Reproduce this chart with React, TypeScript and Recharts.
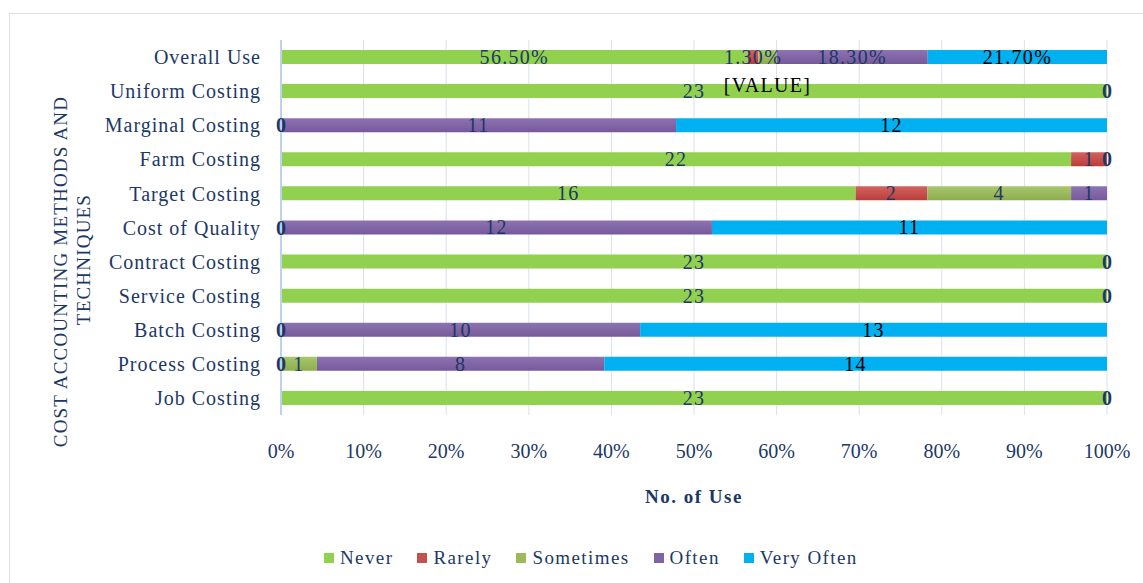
import React from 'react';
import {
  BarChart,
  Bar,
  XAxis,
  YAxis,
  CartesianGrid,
  Legend,
  LabelList,
  ReferenceDot
} from 'recharts';

const categories = [
  'Overall Use',
  'Uniform Costing',
  'Marginal Costing',
  'Farm Costing',
  'Target Costing',
  'Cost of Quality',
  'Contract Costing',
  'Service Costing',
  'Batch Costing',
  'Process Costing',
  'Job Costing'
];

// null = no label in the original, 0 = a "0" label is shown
const never = [56.5, 23, 0, 22, 16, 0, 23, 23, 0, 0, 23];
const rarely = [1.3, null, null, 1, 2, null, null, null, null, null, null];
const sometimes = [2.2, null, null, null, 4, null, null, null, null, 1, null];
const often = [18.3, null, 11, null, 1, 12, null, null, 10, 8, null];
const veryOften = [21.7, 0, 12, 0, null, 11, 0, 0, 13, 14, 0];

const tickPercents = [0, 10, 20, 30, 40, 50, 60, 70, 80, 90, 100];

const series = [
  { key: 'never', name: 'Never', values: never, fill: '#92D050', swatch: '#92D050' },
  { key: 'rarely', name: 'Rarely', values: rarely, fill: 'url(#g-rarely)', swatch: '#C4514E' },
  { key: 'sometimes', name: 'Sometimes', values: sometimes, fill: 'url(#g-sometimes)', swatch: '#9BBB59' },
  { key: 'often', name: 'Often', values: often, fill: 'url(#g-often)', swatch: '#8064A2' },
  { key: 'veryOften', name: 'Very Often', values: veryOften, fill: '#00B0F0', swatch: '#00B0F0' }
];

const data = categories.map((name, i) => {
  const row: any = { name };
  series.forEach((s) => (row[s.key] = s.values[i]));
  return row;
});

// zero-valued segments still carry a "0" label in the original;
// place them at the stack position of that segment
const zeroLabels: { name: string; at: number; key: string }[] = [];
categories.forEach((name, i) => {
  const total = series.reduce((sum, s) => sum + (s.values[i] || 0), 0);
  let run = 0;
  series.forEach((s) => {
    const v = s.values[i];
    if (v === 0) zeroLabels.push({ name, at: run / total, key: s.key });
    run += v || 0;
  });
});

const FONT = '"Liberation Serif", "Times New Roman", serif';
const NAVY = '#1C3866';

const makeLabel = (key: string) => (props: any) => {
  const { x, y, width, height, index, value } = props;
  if (value === null || value === undefined) return null;
  const v = Number(value);
  let text = index === 0 ? `${v.toFixed(2)}%` : String(v);
  let fill = key === 'veryOften' ? '#000000' : NAVY;
  let cy = Number(y) + Number(height) / 2;
  if (index === 0 && key === 'sometimes') {
    // broken label left in the source chart
    text = '[VALUE]';
    fill = '#000000';
    cy += 28;
  }
  return (
    <text
      x={Number(x) + Number(width) / 2}
      y={cy}
      textAnchor="middle"
      dominantBaseline="central"
      fill={fill}
      fontFamily={FONT}
      fontSize={20}
      letterSpacing={1.3}
    >
      {text}
    </text>
  );
};

const ZeroMark = (props: any) => (
  <text
    x={props.cx}
    y={props.cy}
    textAnchor="middle"
    dominantBaseline="central"
    fill={NAVY}
    fontFamily={FONT}
    fontSize={20}
    fontWeight="bold"
  >
    0
  </text>
);

const renderYTitle = (props: any) => {
  const vb = props.viewBox || { x: 0, y: 40, width: 281, height: 375 };
  const cy = vb.y + vb.height / 2;
  return (
    <g fill={NAVY} fontFamily={FONT} fontSize={19} letterSpacing={1.2}>
      <text x={60} y={cy + 44} textAnchor="middle" dominantBaseline="central" transform={`rotate(-90 60 ${cy + 44})`}>
        COST ACCOUNTING METHODS AND
      </text>
      <text x={83} y={cy + 32} textAnchor="middle" dominantBaseline="central" transform={`rotate(-90 83 ${cy + 32})`}>
        TECHNIQUES
      </text>
    </g>
  );
};

const renderXTitle = (props: any) => {
  const vb = props.viewBox || { x: 281, y: 415, width: 826, height: 168 };
  return (
    <text
      x={vb.x + vb.width / 2}
      y={vb.y + 88}
      textAnchor="middle"
      fill={NAVY}
      fontFamily={FONT}
      fontSize={19}
      fontWeight="bold"
      letterSpacing={1.5}
    >
      No. of Use
    </text>
  );
};

const renderLegend = () => (
  <div style={{ display: 'flex', alignItems: 'center', height: 24 }}>
    {series.map((s) => (
      <div key={s.key} style={{ display: 'flex', alignItems: 'center', marginRight: 24 }}>
        <div style={{ width: 10, height: 10, background: s.swatch, marginRight: 6 }} />
        <span style={{ fontFamily: FONT, fontSize: 19, letterSpacing: 1.4, color: NAVY }}>{s.name}</span>
      </div>
    ))}
  </div>
);

const App: React.FC = () => {
  return (
    <div style={{ position: 'absolute', left: 0, top: 0, width: 1143, height: 583, background: '#fff' }}>
      <div
        style={{
          position: 'absolute',
          left: 9,
          top: 13,
          width: 1200,
          height: 600,
          borderLeft: '1px solid #D9DEE6',
          borderTop: '1px solid #D9DEE6'
        }}
      />
      <BarChart
        width={1143}
        height={583}
        data={data}
        layout="vertical"
        stackOffset="expand"
        margin={{ top: 40, right: 36, bottom: 0, left: 0 }}
        style={{ position: 'absolute', left: 0, top: 0 }}
      >
        <defs>
          <linearGradient id="g-rarely" x1="0" y1="0" x2="0" y2="1">
            <stop offset="0%" stopColor="#D2625F" />
            <stop offset="100%" stopColor="#B93D3A" />
          </linearGradient>
          <linearGradient id="g-sometimes" x1="0" y1="0" x2="0" y2="1">
            <stop offset="0%" stopColor="#A8C66C" />
            <stop offset="100%" stopColor="#8CAD4C" />
          </linearGradient>
          <linearGradient id="g-often" x1="0" y1="0" x2="0" y2="1">
            <stop offset="0%" stopColor="#8D73B1" />
            <stop offset="100%" stopColor="#76599B" />
          </linearGradient>
        </defs>
        <CartesianGrid horizontal={false} stroke="#D9E1EC" />
        <XAxis
          type="number"
          domain={[0, 1]}
          ticks={tickPercents.map((p) => p / 100)}
          tickFormatter={(v: number) => `${Math.round(v * 100)}%`}
          axisLine={false}
          tickLine={false}
          tickSize={0}
          tickMargin={29}
          height={168}
          interval={0}
          tick={{ fill: NAVY, fontSize: 20, fontFamily: FONT }}
          label={renderXTitle}
        />
        <YAxis
          type="category"
          dataKey="name"
          width={281}
          axisLine={{ stroke: '#BDD3EC', strokeWidth: 2 }}
          tickLine={false}
          tickSize={0}
          tickMargin={20}
          interval={0}
          tick={{ fill: NAVY, fontSize: 20, fontFamily: FONT, letterSpacing: 1 }}
          label={renderYTitle}
        />
        <Legend
          layout="horizontal"
          verticalAlign="middle"
          align="center"
          wrapperStyle={{ top: 546, left: 324, width: 640 }}
          content={renderLegend}
        />
        {series.map((s) => (
          <Bar
            key={s.key}
            dataKey={s.key}
            name={s.name}
            stackId="a"
            fill={s.fill}
            barSize={14}
            isAnimationActive={false}
          >
            <LabelList dataKey={s.key} content={makeLabel(s.key)} />
          </Bar>
        ))}
        {zeroLabels.map((z) => (
          <ReferenceDot
            key={`${z.name}-${z.key}`}
            x={z.at}
            y={z.name}
            r={0}
            ifOverflow="visible"
            shape={ZeroMark}
          />
        ))}
      </BarChart>
    </div>
  );
};

export default App;
